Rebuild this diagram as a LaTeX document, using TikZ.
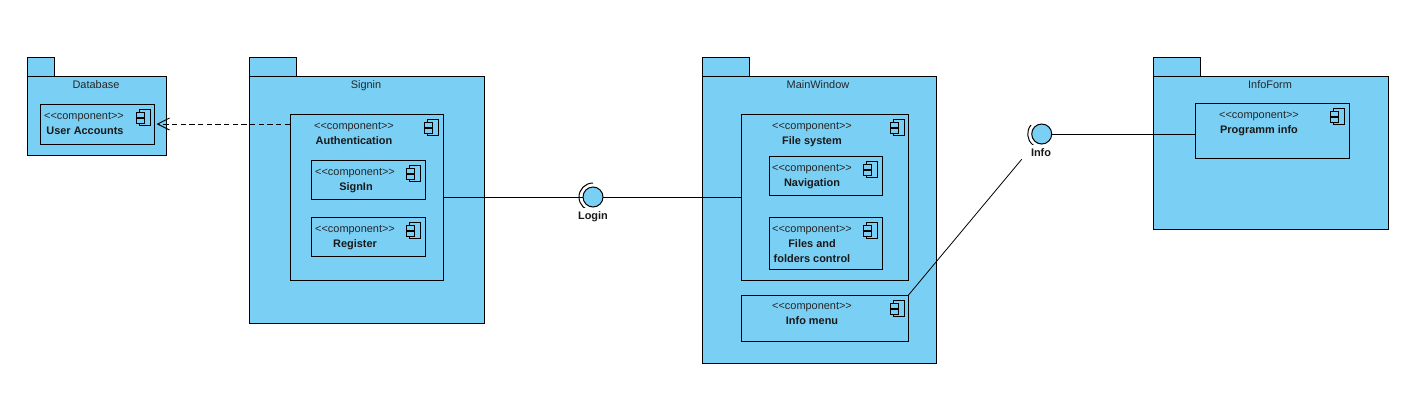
\documentclass[tikz,border=0pt]{standalone}
\usepackage{fontspec}
\setmainfont{Liberation Sans}
\usepackage{xcolor}
\usetikzlibrary{positioning, arrows.meta, calc}
\definecolor{pkgblue}{HTML}{7ACFF5}
\newcommand{\compicon}[1]{%
  \begin{scope}[shift={(#1.north east)}]
    \draw[wire, fill=pkgblue] (-15.5,5) rectangle (-4.5,21);
    \draw[wire, fill=pkgblue] (-18.5,8) rectangle (-10.5,13);
    \draw[wire, fill=pkgblue] (-18.5,14) rectangle (-10.5,19);
  \end{scope}}
\newcommand{\stereotype}{{<}{<}component{>}{>}}
\tikzset{
  wire/.style={draw=black, line width=0.75pt},
  wd/.style={minimum width=#1*0.75pt},
  ht/.style={minimum height=#1*0.75pt},
  box/.style={wire, fill=pkgblue, inner sep=0pt, outer sep=0pt, anchor=north west},
  stereo/.style={font=\fontsize{8.2}{10}\selectfont, text=black!85, inner sep=0pt, text height=7.5pt, text depth=1.5pt},
  title/.style={font=\fontsize{8.2}{10}\selectfont\bfseries, text=black!90, inner sep=0pt, text height=7.5pt, text depth=1.5pt},
  pkgtitle/.style={stereo},
  iface/.style={circle, wire, fill=pkgblue, minimum size=15pt, inner sep=0pt, outer sep=0pt},
  ifacelabel/.style={title, fill=white, minimum width=28.5pt, minimum height=10.5pt}
}
\begin{document}
\begin{tikzpicture}[x=0.75pt, y=-0.75pt]
\useasboundingbox (0,0) rectangle (1426,411);

% Database package
\node[box, wd=27, ht=19] (dbtab) at (27,57) {};
\node[box, wd=139, ht=79] (database) at (27,76) {};
\node[pkgtitle] (dbtitle) at (96,84.5) {Database};
\node[box, wd=114, ht=40] (accounts) at (40.5,104) {};
\node[stereo] (accountsst) at (84,115) {\stereotype};
\node[title] (accountsname) at (85,130) {User Accounts};
\compicon{accounts}

% Signin package
\node[box, wd=47, ht=19] (signintab) at (249,57) {};
\node[box, wd=235, ht=247] (signinpkg) at (249,76) {};
\node[pkgtitle] (signintitle) at (366,84.5) {Signin};
\node[box, wd=153, ht=166] (auth) at (290,114) {};
\node[stereo] (authst) at (354,125) {\stereotype};
\node[title] (authname) at (354,140) {Authentication};
\compicon{auth}
\node[box, wd=114, ht=39] (signin) at (311,160) {};
\node[stereo] (signinst) at (355,171.5) {\stereotype};
\node[title] (signinname) at (356,186) {SignIn};
\compicon{signin}
\node[box, wd=114, ht=39] (register) at (311,217) {};
\node[stereo] (registerst) at (355,228.5) {\stereotype};
\node[title] (registername) at (355,243) {Register};
\compicon{register}

% MainWindow package
\node[box, wd=47, ht=19] (maintab) at (702,57) {};
\node[box, wd=234, ht=287] (mainwindow) at (702,76) {};
\node[pkgtitle] (maintitle) at (818,84.5) {MainWindow};
\node[box, wd=167, ht=166] (filesystem) at (741.5,114) {};
\node[stereo] (filesystemst) at (812,125) {\stereotype};
\node[title] (filesystemname) at (812,140) {File system};
\compicon{filesystem}
\node[box, wd=113, ht=39] (navigation) at (769,156) {};
\node[stereo] (navigationst) at (812,167) {\stereotype};
\node[title] (navigationname) at (812,182) {Navigation};
\compicon{navigation}
\node[box, wd=113, ht=52] (files) at (769,217) {};
\node[stereo] (filesst) at (812,228.5) {\stereotype};
\node[title] (filesname) at (812,243) {Files and};
\node[title] (foldersname) at (812,258) {folders control};
\compicon{files}
\node[box, wd=167, ht=46] (infomenu) at (741.5,295) {};
\node[stereo] (infomenust) at (812,305) {\stereotype};
\node[title] (infomenuname) at (812,320) {Info menu};
\compicon{infomenu}

% InfoForm package
\node[box, wd=47, ht=19] (infotab) at (1153,57) {};
\node[box, wd=235, ht=153] (infoform) at (1153,76) {};
\node[pkgtitle] (infotitle) at (1270,84.5) {InfoForm};
\node[box, wd=154, ht=55] (proginfo) at (1195,103) {};
\node[stereo] (proginfost) at (1259,114) {\stereotype};
\node[title] (proginfoname) at (1259,129) {Programm info};
\compicon{proginfo}

% Interfaces
\coordinate (logincentre) at (593,197);
\coordinate (infocentre) at (1041.7,134);
\draw[wire] (logincentre) ++(-90:14) arc[start angle=-90, end angle=-270, radius=14];
\draw[wire] (infocentre) ++(-140:14) arc[start angle=-140, end angle=-300, radius=14];
\node[iface] (login) at (logincentre) {};
\node[iface] (info) at (infocentre) {};
\node[ifacelabel] (loginlabel) at (593,215) {Login};
\node[ifacelabel] (infolabel) at (1041,152) {Info};

% Connectors
\draw[wire, dash pattern=on 4pt off 2.5pt, -{Straight Barb[length=9pt, width=9pt]}, shorten >=1.5pt]
  (auth.west |- accounts.east) -- (accounts.east);
\draw[wire] (auth.east) -- (login.west);
\draw[wire] (login.east) -- (filesystem.west);
\draw[wire, line width=0.6pt] (infomenu.north east) -- (infolabel.south west);
\draw[wire] (info.east) -- (info.east -| proginfo.west);
\end{tikzpicture}
\end{document}
